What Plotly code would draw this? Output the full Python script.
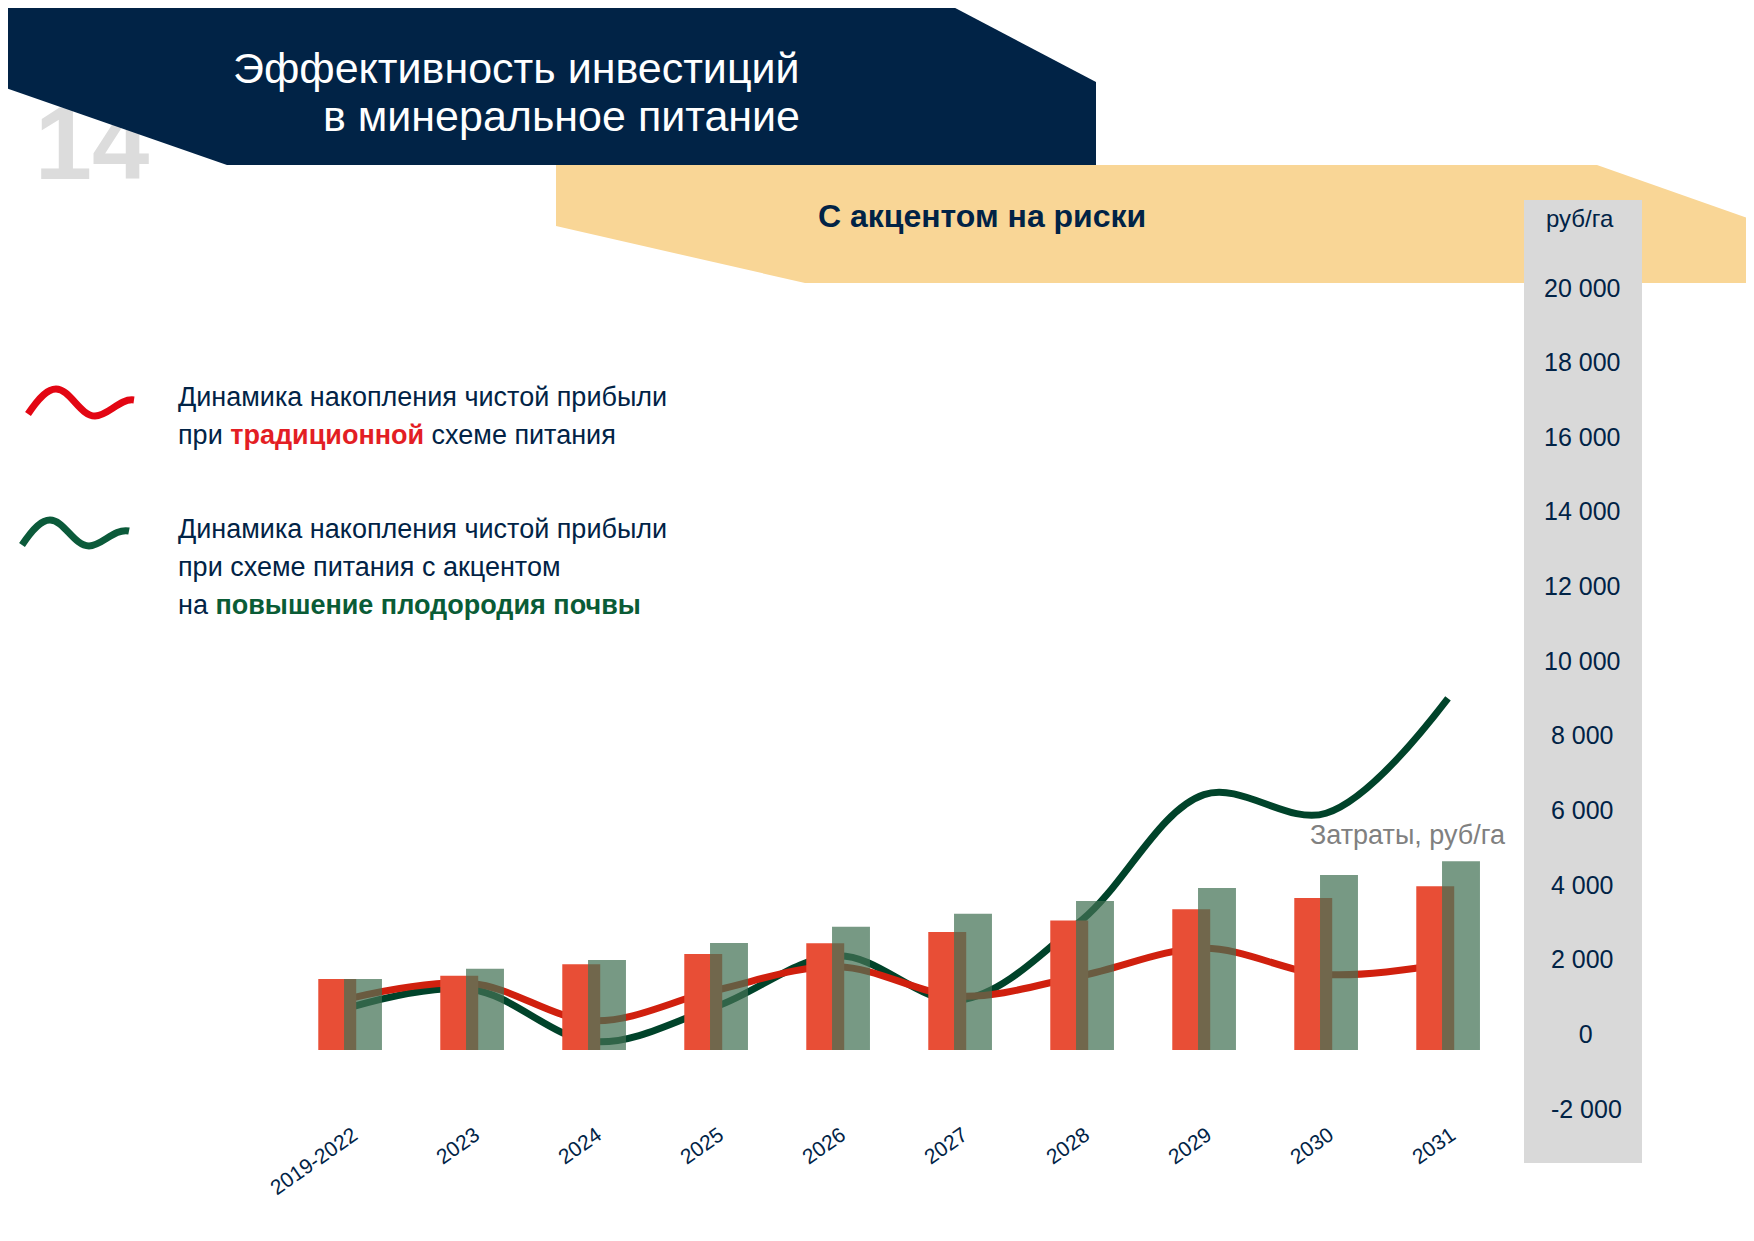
import plotly.graph_objects as go

# --- data ---
years = ["2019-2022", "2023", "2024", "2025", "2026", "2027", "2028", "2029", "2030", "2031"]
cost_traditional = [1900, 1990, 2300, 2570, 2860, 3160, 3470, 3770, 4070, 4390]
cost_soil = [1900, 2180, 2410, 2870, 3300, 3650, 3990, 4340, 4690, 5060]
profit_traditional = [960, 1360, 360, 1180, 1810, 1020, 1570, 2300, 1600, 1900]
profit_soil = [720, 1200, -200, 740, 2100, 920, 3060, 6420, 5920, 9000]
y_ticks = [-2000, 0, 2000, 4000, 6000, 8000, 10000, 12000, 14000, 16000, 18000, 20000]
y_tick_labels = ["-2 000", "0", "2 000", "4 000", "6 000", "8 000", "10 000", "12 000",
                 "14 000", "16 000", "18 000", "20 000"]

OFF = 8  # page body margin around the plot div
W, H = 1754 - OFF, 1241 - 2 * OFF - 10  # keep the div inside the window (no scrollbars)
NAVY = "#012346"
FONT = "Liberation Sans, Arial, sans-serif"

# page-pixel layout of the chart
ZERO_Y = 1034.2      # profit axis zero
BAR_ZERO_Y = 1050.0  # cost bars baseline
PX_PER_UNIT = 0.03732
CAT0_X, CAT_STEP = 350.0, 122.0


def px(x):
    return (x - OFF) / W


def py(y):
    return 1 - (y - OFF) / H


def yrange(zero_y):
    z = zero_y - OFF
    return [(z - H) / PX_PER_UNIT, z / PX_PER_UNIT]


def poly(points):
    return "M " + " L ".join(f"{px(x):.5f},{py(y):.5f}" for x, y in points) + " Z"


def wave(pts):
    s = [f"{px(x):.5f},{py(y):.5f}" for x, y in pts]
    return f"M {s[0]} C {s[1]} {s[2]} {s[3]} C {s[4]} {s[5]} {s[6]} C {s[7]} {s[8]} {s[9]}"


def centered(label, full=11):
    # pad with no-break spaces (half a digit wide) so labels look centred in the grey column
    w = sum(2 if c.isdigit() else 1 for c in label)
    return "\u00a0" * int((full - w) / 2 + 0.5) + label


fig = go.Figure()

# cost bars (own axis, baseline slightly below the profit zero)
fig.add_trace(go.Bar(x=years, y=cost_traditional, width=0.311, offset=-0.26,
                     marker=dict(color="#E84E36", line_width=0), yaxis="y2"))
fig.add_trace(go.Bar(x=years, y=cost_soil, width=0.311, offset=-0.049,
                     marker=dict(color="rgba(66,114,84,0.72)", line_width=0), yaxis="y2"))

# cumulative profit lines
fig.add_trace(go.Scatter(x=years, y=profit_soil, mode="lines",
                         line=dict(shape="spline", smoothing=1.0, width=7, color="#00432A")))
fig.add_trace(go.Scatter(x=years, y=profit_traditional, mode="lines",
                         line=dict(shape="spline", smoothing=1.0, width=7, color="#D0200E")))

# page number, sits behind the banner
fig.add_trace(go.Scatter(x=[92 - OFF], y=[153 - OFF], mode="text", text=["14"], xaxis="x3", yaxis="y3",
                         textfont=dict(family=FONT, size=103, color="#DCDCDC", weight="bold"),
                         hoverinfo="skip"))

shapes = [
    dict(type="path", path=poly([(556, 165), (1597, 165), (1770, 226), (1770, 283), (805, 283), (556, 226)]),
         fillcolor="#F9D696", line_width=0, layer="below"),
    dict(type="rect", x0=px(1524), x1=px(1642), y0=py(1163), y1=py(200),
         fillcolor="#D9D9D9", line_width=0, layer="below"),
    dict(type="path", path=poly([(0, 0), (940, 0), (1096, 82), (1096, 165), (227, 165), (0, 86)]),
         fillcolor=NAVY, line_width=0, layer="above"),
    dict(type="path", path=wave([(28, 414), (40, 396), (48, 389), (56, 389), (70, 389), (80, 416), (95, 416),
                                 (108, 416), (120, 398), (134, 400)]),
         line=dict(color="#E30613", width=7), layer="above"),
    dict(type="path", path=wave([(22, 545), (34, 527), (42, 520), (50, 520), (64, 520), (74, 546), (89, 546),
                                 (102, 546), (114, 528), (129, 531)]),
         line=dict(color="#0B5A3A", width=7), layer="above"),
]
for s in shapes:
    s.update(xref="paper", yref="paper")

legend_lines = [
    (397, "Динамика накопления чистой прибыли"),
    (435, "при <b><span style='color:#E31E24'>традиционной</span></b> схеме питания"),
    (529, "Динамика накопления чистой прибыли"),
    (567, "при схеме питания с акцентом"),
    (605, "на <b><span style='color:#0A5C36'>повышение плодородия почвы</span></b>"),
]

annotations = [
    dict(x=px(802), y=py(68), text="Эффективность инвестиций", xanchor="right", yanchor="middle",
         font=dict(family=FONT, size=43, color="white")),
    dict(x=px(802), y=py(116), text="в минеральное питание", xanchor="right", yanchor="middle",
         font=dict(family=FONT, size=43, color="white")),
    dict(x=px(982), y=py(216), text="<b>С акцентом на риски</b>", xanchor="center", yanchor="middle",
         font=dict(family=FONT, size=32, color=NAVY)),
    dict(x=px(1580), y=py(219), text="руб/га", xanchor="center", yanchor="middle",
         font=dict(family=FONT, size=24, color=NAVY)),
    dict(x=px(1508), y=py(835), text="Затраты, руб/га", xanchor="right", yanchor="middle",
         font=dict(family=FONT, size=27, color="#808080")),
]
for y, t in legend_lines:
    annotations.append(dict(x=px(176), y=py(y), text=t, xanchor="left", yanchor="middle",
                            font=dict(family=FONT, size=27, color=NAVY)))
for a in annotations:
    a.update(xref="paper", yref="paper", showarrow=False)

x0 = (CAT0_X - OFF) / CAT_STEP
fig.update_layout(
    width=W, height=H,
    margin=dict(l=0, r=0, t=0, b=0),
    paper_bgcolor="white", plot_bgcolor="rgba(0,0,0,0)",
    showlegend=False, barmode="overlay",
    shapes=shapes, annotations=annotations,
    xaxis=dict(type="category", range=[-x0, W / CAT_STEP - x0], domain=[0, 1], anchor="free", position=py(1118),
               showgrid=False, zeroline=False, showline=False, ticks="", tickangle=-35, ticklabelshift=3,
               tickfont=dict(family=FONT, size=21, color=NAVY)),
    yaxis=dict(range=yrange(ZERO_Y), domain=[0, 1], anchor="free", position=px(1543), side="right",
               tickvals=y_ticks, ticktext=[centered(t) for t in y_tick_labels],
               showgrid=False, zeroline=False, showline=False, ticks="",
               tickfont=dict(family=FONT, size=25, color=NAVY)),
    yaxis2=dict(range=yrange(BAR_ZERO_Y), overlaying="y", visible=False),
    xaxis3=dict(range=[0, W], overlaying="x", visible=False, anchor="y3"),
    yaxis3=dict(range=[H, 0], overlaying="y", visible=False, anchor="x3"),
)

fig.write_html("out.html")
